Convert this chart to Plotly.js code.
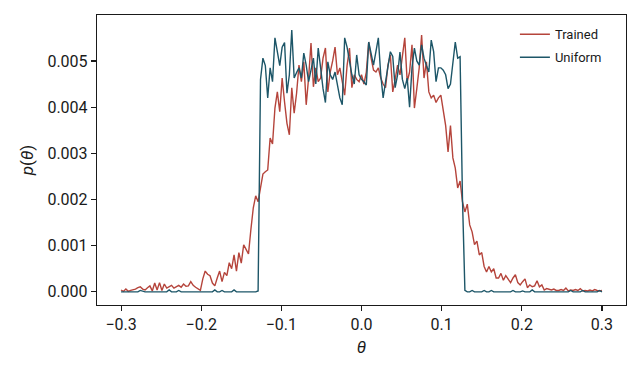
<!DOCTYPE html>
<html>
<head>
<meta charset="utf-8">
<script src="https://cdn.plot.ly/plotly-3.0.1.min.js"></script>
<style>html,body{margin:0;padding:0;background:#fff;}#chart{width:640px;height:373px;}</style>
</head>
<body>
<div id="chart"></div>
<script>
// theta grid: -0.3 .. 0.3, step 0.003 (201 points)
const thetaStart = -0.3;
const thetaStep = 0.003;

// Trained p(theta), in units of 1e-3
const trainedE3 = [
0.04,0.01,0.06,0.01,0.03,0.04,0.06,0.09,0.11,0.06,
0.04,0.09,0.13,0.02,0.19,0.04,0.20,0.03,0.17,0.08,
0.12,0.14,0.08,0.11,0.14,0.10,0.17,0.12,0.13,0.22,
0.14,0.10,0.06,0.03,0.28,0.45,0.38,0.35,0.19,0.13,
0.30,0.45,0.22,0.42,0.35,0.63,0.50,0.80,0.45,0.85,
0.62,1.02,0.92,0.82,1.35,1.82,2.08,1.95,2.25,2.55,
2.60,2.64,3.33,3.20,3.98,4.33,3.90,4.63,4.11,3.65,
3.40,4.42,3.87,4.30,4.91,4.55,4.98,4.05,4.63,5.39,
4.44,4.85,4.55,4.63,5.06,5.28,4.33,4.76,5.00,5.30,
4.70,4.85,4.55,4.26,4.90,5.28,4.42,4.70,4.60,4.55,
4.70,4.50,4.76,5.41,5.06,4.80,4.76,4.85,4.63,4.50,
4.42,4.91,5.13,4.33,4.60,4.91,4.70,5.06,5.50,4.55,
4.76,5.35,3.98,4.40,4.85,5.56,4.63,4.98,4.33,4.20,
4.26,4.10,4.20,4.26,3.90,3.60,3.03,3.60,2.90,2.68,
2.25,2.40,1.95,1.73,1.90,1.45,1.30,1.02,1.10,0.80,
0.85,0.55,0.43,0.55,0.43,0.50,0.30,0.30,0.40,0.25,
0.35,0.28,0.20,0.30,0.37,0.20,0.15,0.22,0.28,0.09,
0.15,0.11,0.13,0.24,0.11,0.15,0.04,0.07,0.05,0.04,
0.06,0.03,0.03,0.05,0.03,0.08,0.02,0.04,0.03,0.05,
0.03,0.07,0.02,0.03,0.02,0.04,0.02,0.05,0.03,0.02,
0.03
];

// Uniform p(theta), in units of 1e-3
const uniformE3 = [
0.00,0.00,0.00,0.00,0.00,0.00,0.00,0.00,0.03,0.01,
0.00,0.00,0.00,0.00,0.00,0.00,0.00,0.00,0.00,0.00,
0.04,0.00,0.00,0.00,0.03,0.00,0.00,0.00,0.00,0.00,
0.00,0.00,0.00,0.00,0.00,0.00,0.00,0.00,0.00,0.04,
0.00,0.00,0.03,0.00,0.00,0.00,0.00,0.04,0.00,0.00,
0.00,0.00,0.00,0.00,0.00,0.00,0.00,0.02,4.60,5.06,
4.90,4.20,4.85,4.55,5.50,5.20,4.90,5.30,5.40,4.30,
4.70,5.67,4.63,4.75,4.85,4.63,5.17,4.91,4.55,4.80,
5.06,4.50,5.28,4.85,4.40,4.10,4.98,4.70,4.60,4.76,
4.50,4.20,4.05,5.50,5.30,5.00,4.70,4.50,5.13,4.70,
4.60,4.55,4.48,5.41,5.19,4.91,5.20,5.50,4.70,4.20,
4.55,4.90,5.20,5.10,4.42,4.70,5.19,4.60,4.40,4.63,
4.00,4.85,5.28,5.00,4.91,5.35,5.06,4.90,4.76,5.45,
5.20,4.55,4.85,4.85,4.80,4.70,4.40,4.50,4.90,5.41,
5.06,5.09,2.00,0.03,0.00,0.00,0.03,0.00,0.00,0.00,
0.00,0.03,0.00,0.00,0.03,0.00,0.00,0.00,0.00,0.00,
0.00,0.00,0.00,0.03,0.00,0.00,0.00,0.02,0.00,0.00,
0.00,0.04,0.00,0.00,0.00,0.00,0.00,0.00,0.00,0.00,
0.00,0.00,0.00,0.00,0.00,0.00,0.00,0.03,0.00,0.00,
0.00,0.00,0.03,0.00,0.00,0.00,0.00,0.00,0.00,0.03,
0.00
];

const seriesNames = ["Trained", "Uniform"];
const xTickVals = [-0.3, -0.2, -0.1, 0.0, 0.1, 0.2, 0.3];
const yTickVals = [0, 0.001, 0.002, 0.003, 0.004, 0.005];

const toUnits = a => a.map(v => v / 1000);
const theta = trainedE3.map((_, i) => +(thetaStart + i * thetaStep).toFixed(4));

const font = "Roboto, 'DejaVu Sans', sans-serif";
const traces = [
  {x: theta, y: toUnits(trainedE3), name: seriesNames[0], legendgroup: "a", type: "scatter", mode: "lines",
   line: {color: "#b5443b", width: 1.4}},
  {x: theta, y: toUnits(uniformE3), name: seriesNames[1], legendgroup: "b", type: "scatter", mode: "lines",
   line: {color: "#1d5668", width: 1.4}}
];

const axisCommon = {
  showgrid: false, zeroline: false, showline: true, mirror: true,
  linecolor: "#1a1a1a", linewidth: 1.2, ticks: "outside", ticklen: 5, tickwidth: 1.1,
  tickcolor: "#1a1a1a", tickfont: {family: font, size: 16, color: "#1a1a1a"}
};

const layout = {
  width: 640, height: 373,
  margin: {l: 97, r: 14, t: 15, b: 68},
  paper_bgcolor: "#fff", plot_bgcolor: "#fff",
  showlegend: true,
  legend: {x: 0.79, y: 0.985, xanchor: "left", yanchor: "top", bgcolor: "rgba(0,0,0,0)",
           traceorder: "grouped", tracegroupgap: 3,
           font: {family: font, size: 13, color: "#1a1a1a"}},
  xaxis: Object.assign({}, axisCommon, {
    range: [-0.33, 0.33], tickvals: xTickVals, tickformat: ".1f",
    title: {text: "<i>θ</i>", font: {family: font, size: 17, color: "#1a1a1a"}, standoff: 7}
  }),
  yaxis: Object.assign({}, axisCommon, {
    range: [-0.000285, 0.005995], tickvals: yTickVals, tickformat: ".3f",
    title: {text: "<i>p</i>(<i>θ</i>)", font: {family: font, size: 17, color: "#1a1a1a"}, standoff: 9}
  })
};

Plotly.newPlot("chart", traces, layout, {displayModeBar: false, staticPlot: true});
</script>
</body>
</html>
